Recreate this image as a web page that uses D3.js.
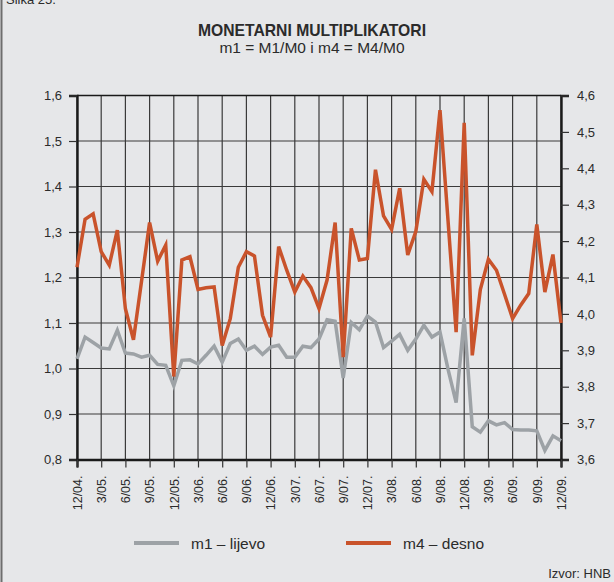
<!DOCTYPE html>
<html>
<head>
<meta charset="utf-8">
<script src="https://cdn.jsdelivr.net/npm/d3@7"></script>
<style>
  body { margin: 0; background: #e6e7e9; }
  text { font-family: "Liberation Sans", Arial, sans-serif; fill: #2b2b2b; }
</style>
</head>
<body>
<div id="chart"></div>
<script>
// monthly values, 12/04 .. 12/09
var m1 = [1.021, 1.069, 1.057, 1.045, 1.043, 1.084, 1.034, 1.032, 1.025, 1.029,
          1.009, 1.007, 0.962, 1.018, 1.019, 1.010, 1.029, 1.049, 1.014, 1.055,
          1.065, 1.040, 1.049, 1.031, 1.047, 1.051, 1.025, 1.025, 1.049, 1.046,
          1.065, 1.107, 1.104, 0.979, 1.101, 1.085, 1.115, 1.102, 1.046, 1.060,
          1.075, 1.040, 1.065, 1.095, 1.069, 1.080, 0.998, 0.925, 1.110, 0.872,
          0.860, 0.885, 0.876, 0.881, 0.866, 0.865, 0.865, 0.863, 0.820, 0.852,
          0.841];
var m4 = [4.128, 4.260, 4.275, 4.171, 4.134, 4.230, 4.014, 3.929, 4.090, 4.251,
          4.145, 4.189, 3.828, 4.148, 4.157, 4.067, 4.072, 4.074, 3.913, 3.987,
          4.128, 4.171, 4.159, 3.996, 3.936, 4.185, 4.120, 4.060, 4.104, 4.072,
          4.015, 4.093, 4.251, 3.881, 4.235, 4.148, 4.152, 4.396, 4.269, 4.232,
          4.345, 4.162, 4.226, 4.370, 4.336, 4.560, 4.255, 3.950, 4.525, 3.886,
          4.067, 4.150, 4.120, 4.054, 3.987, 4.024, 4.056, 4.246, 4.060, 4.163,
          3.975];
// quarterly tick labels
var tickLabels = ["12/04.", "3/05.", "6/05.", "9/05.", "12/05.", "3/06.", "6/06.",
                  "9/06.", "12/06.", "3/07.", "6/07.", "9/07.", "12/07.", "3/08.",
                  "6/08.", "9/08.", "12/08.", "3/09.", "6/09.", "9/09.", "12/09."];
var leftTicks = [0.8, 0.9, 1.0, 1.1, 1.2, 1.3, 1.4, 1.5, 1.6];
var rightTicks = [3.6, 3.7, 3.8, 3.9, 4.0, 4.1, 4.2, 4.3, 4.4, 4.5, 4.6];

var svgWidth = 614, svgHeight = 582;
var plot = {left: 77, right: 561, top: 95.5, bottom: 459.5};

var svg = d3.select("#chart")
  .append("svg")
  .attr("width", svgWidth)
  .attr("height", svgHeight);

var fmt = function(v) { return d3.format(".1f")(v).replace(".", ","); };

// scales
var x = d3.scaleLinear().domain([0, m1.length - 1]).range([plot.left, plot.right]);
var yL = d3.scaleLinear().domain([0.8, 1.6]).range([plot.bottom, plot.top]);
var yR = d3.scaleLinear().domain([3.6, 4.6]).range([plot.bottom, plot.top]);

// frame line on the left + cut off caption
svg.append("line")
  .attr("x1", 1.5).attr("x2", 1.5).attr("y1", 0).attr("y2", svgHeight)
  .style("stroke", "#6e6e6e").style("stroke-width", 2);
svg.append("text")
  .attr("x", 6).attr("y", 4)
  .style("font-size", "13px")
  .text("Slika 25.");

// title
svg.append("text")
  .attr("x", 312).attr("y", 36)
  .attr("text-anchor", "middle")
  .style("font-size", "15.7px").style("font-weight", "bold")
  .text("MONETARNI MULTIPLIKATORI");
svg.append("text")
  .attr("x", 312).attr("y", 53)
  .attr("text-anchor", "middle")
  .style("font-size", "15.5px")
  .text("m1 = M1/M0 i m4 = M4/M0");

// grid
var grid = svg.append("g");
grid.selectAll(".hg")
  .data(leftTicks)
  .enter().append("line")
  .attr("x1", plot.left).attr("x2", plot.right)
  .attr("y1", d => yL(d)).attr("y2", d => yL(d))
  .style("stroke", "#3a3a3a").style("stroke-width", 1.2);
grid.selectAll(".vg")
  .data(tickLabels)
  .enter().append("line")
  .attr("x1", (d, i) => x(i * 3)).attr("x2", (d, i) => x(i * 3))
  .attr("y1", plot.top).attr("y2", plot.bottom)
  .style("stroke", "#3a3a3a").style("stroke-width", 1.2);

// axes
var leftAxis = d3.axisLeft(yL).tickValues(leftTicks).tickSize(8).tickPadding(7).tickFormat(fmt);
var rightAxis = d3.axisRight(yR).tickValues(rightTicks).tickSize(8).tickPadding(8).tickFormat(fmt);
var bottomAxis = d3.axisBottom(x).tickValues(d3.range(0, 61, 3)).tickSize(8)
  .tickFormat((d, i) => tickLabels[i]);

var gL = svg.append("g").attr("transform", `translate(${plot.left},0)`).call(leftAxis);
var gR = svg.append("g").attr("transform", `translate(${plot.right},0)`).call(rightAxis);
var gB = svg.append("g").attr("transform", `translate(0,${plot.bottom})`).call(bottomAxis);

[gL, gR, gB].forEach(function(g) {
  g.select(".domain").style("stroke", "#1a1a1a").style("stroke-width", 2.4);
  g.selectAll(".tick line").style("stroke", "#333").style("stroke-width", 1.2);
  g.selectAll(".tick text")
    .style("font-size", "13px")
    .style("font-family", "'Liberation Sans', Arial, sans-serif")
    .style("fill", "#2b2b2b");
});
gB.selectAll(".tick text")
  .style("font-size", "12.5px")
  .attr("transform", "rotate(-90)")
  .attr("text-anchor", "end")
  .attr("x", -16).attr("y", 0).attr("dy", "0.35em");

// top border
svg.append("line")
  .attr("x1", plot.left).attr("x2", plot.right)
  .attr("y1", plot.top).attr("y2", plot.top)
  .style("stroke", "#1a1a1a").style("stroke-width", 1.6);

// series
var line1 = d3.line().x((d, i) => x(i)).y(d => yL(d));
var line4 = d3.line().x((d, i) => x(i)).y(d => yR(d));

svg.append("path")
  .datum(m1)
  .attr("d", line1)
  .style("fill", "none").style("stroke", "#9da2a6").style("stroke-width", 3.5)
  .style("stroke-linejoin", "miter");
svg.append("path")
  .datum(m4)
  .attr("d", line4)
  .style("fill", "none").style("stroke", "#c9532b").style("stroke-width", 3.5)
  .style("stroke-linejoin", "miter");

// legend
var legend = [
  {name: "m1 \u2013 lijevo", color: "#9da2a6", x: 134},
  {name: "m4 \u2013 desno", color: "#c9532b", x: 346}
];
var lg = svg.selectAll(".legend")
  .data(legend)
  .enter().append("g");
lg.append("line")
  .attr("x1", d => d.x).attr("x2", d => d.x + 45)
  .attr("y1", 543).attr("y2", 543)
  .style("stroke", d => d.color).style("stroke-width", 4);
lg.append("text")
  .attr("x", d => d.x + 57).attr("y", 548.5)
  .style("font-size", "15.5px")
  .text(d => d.name);

// source
svg.append("text")
  .attr("x", 611).attr("y", 578)
  .attr("text-anchor", "end")
  .style("font-size", "13px")
  .text("Izvor: HNB");
</script>
</body>
</html>
